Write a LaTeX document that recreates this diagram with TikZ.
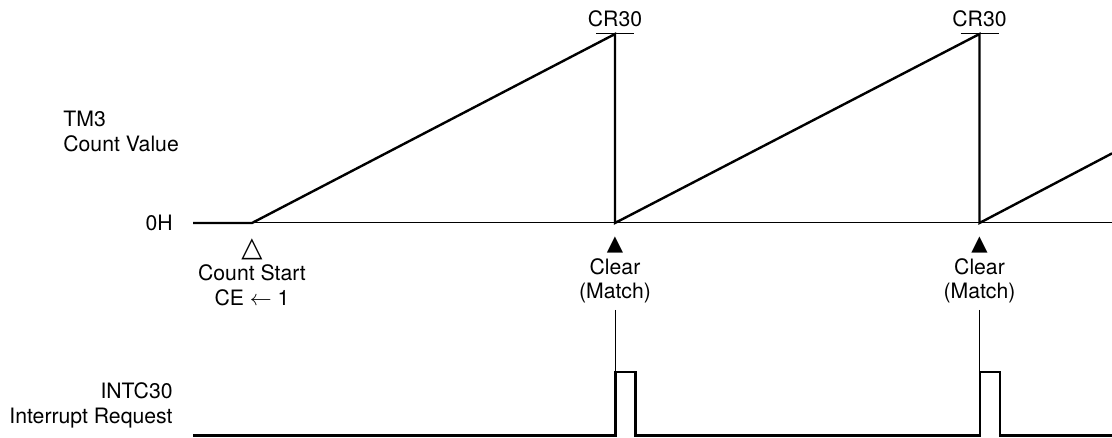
\documentclass[tikz,border=0pt]{standalone}
\usepackage{amsmath,amssymb}
\usepackage{fontspec}
\setmainfont{TeX Gyre Heros}
\newfontfamily\symfont{DejaVu Sans}
\usepackage{tikz}
\usetikzlibrary{positioning}

\begin{document}
\begin{tikzpicture}[
   x=0.5pt,y=-0.5pt,
   lbl/.style={font=\fontsize{10.6}{12.2}\selectfont,inner sep=0pt},
   evt/.style={lbl,align=center,inner sep=3pt},
   sig/.style={line width=1.2pt,line join=miter},
   thin/.style={line width=0.5pt}]
  \useasboundingbox (0,0) rectangle (1112,438);
  % signal labels
  \node[lbl,align=left,anchor=west] (tm) at (63,131.5) {TM3\\Count Value};
  \node[lbl,anchor=east] (zero) at (173,223) {0H};
  \node[lbl,align=right,anchor=east] (intc) at (173,405.5) {INTC30\\Interrupt Request};
  % count start
  \node[evt] (start) at (252,272) {\scalebox{1.3}{\symfont △}\\Count Start\\CE $\leftarrow$ 1};
  % timer count
  \coordinate (c0) at (193,223);
  \coordinate (c1) at (252,223);
  \coordinate (cend) at (1112,153.4);
  \draw[thin] (c0) -- (1112,223);
  \draw[sig] (c0) -- (c1) -- (615,34) -- (615,223) -- (979.5,34) -- (979.5,223) -- (cend);
  % interrupt request
  \coordinate (i0) at (193,435.5);
  \coordinate (iend) at (1112,435.5);
  \draw[sig] (i0) -- (615.5,435.5) |- (635.5,372) -- (635.5,435.5)
     -- (980,435.5) |- (1000,372) -- (1000,435.5) -- (iend);
  % compare match
  \foreach \t/\n in {615/1,979.5/2} {
    \node[lbl] (cr\n) at (\t,18.5) {CR30};
    \draw[thin] ({\t-19},34) -- ({\t+19},34);
    \node[evt] (clr\n) at (\t,270) {{\symfont ▲}\\Clear\\(Match)};
    \coordinate (p\n) at (\t,372);
    \draw[thin] (clr\n.south) -- (p\n);
  }
\end{tikzpicture}
\end{document}
